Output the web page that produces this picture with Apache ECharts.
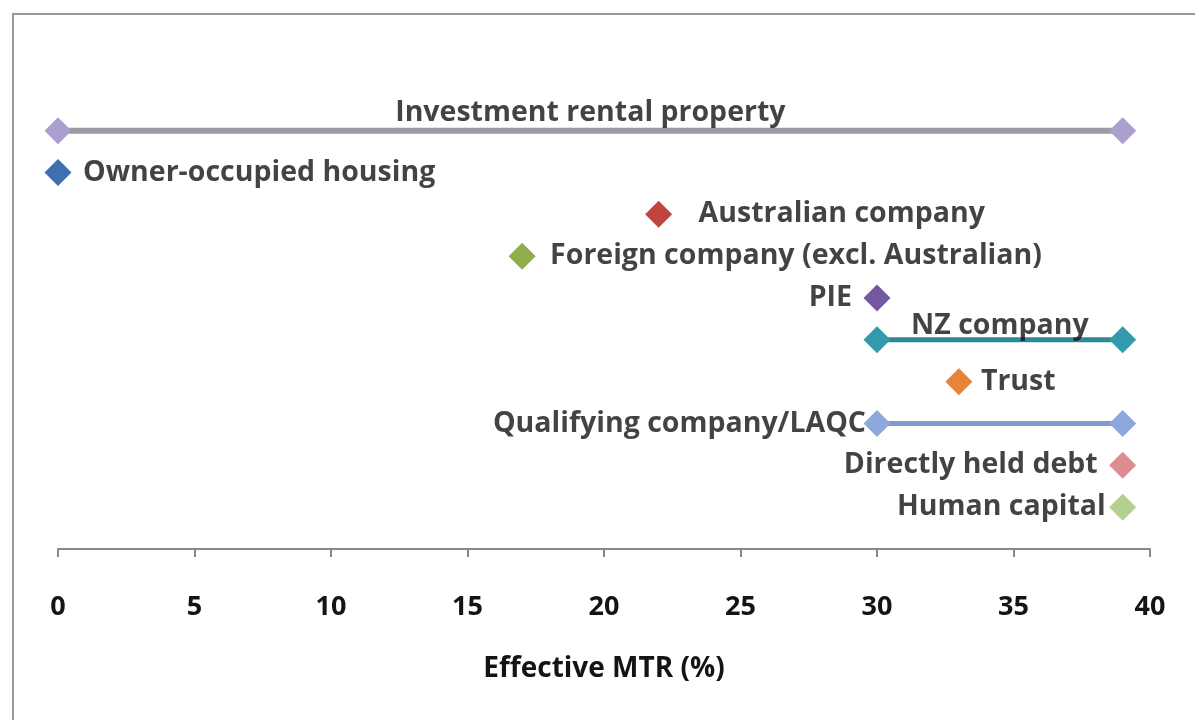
<!DOCTYPE html>
<html>
<head>
<meta charset="utf-8">
<script src="https://cdn.jsdelivr.net/npm/echarts@6/dist/echarts.min.js"></script>
<style>
  html, body { margin: 0; padding: 0; background: #fff; }
  #main { width: 1195px; height: 720px; }
</style>
</head>
<body>
<div id="main"></div>
<script>
// data, top row first
const categories = ['Investment rental property', 'Owner-occupied housing', 'Australian company',
  'Foreign company (excl. Australian)', 'PIE', 'NZ company', 'Trust', 'Qualifying company/LAQC',
  'Directly held debt', 'Human capital'];
const lowMTR = [0, 0, 22, 17, 30, 30, 33, 30, 39, 39];
const highMTR = [39, null, null, null, null, 39, null, 39, null, null];
const xTicks = [0, 5, 10, 15, 20, 25, 30, 35, 40];

// styles
const markerColors = ['#ab9fd0', '#3f6fb0', '#c0443f', '#8fae4a', '#7459a0', '#3399ad', '#e8843a', '#8fa8dc', '#dc8d8f', '#b5cf8f'];
const lineColors = ['#9a9aa2', null, null, null, null, '#2c8a98', null, '#8199cf', null, null];
const lineWidths = [6, 0, 0, 0, 0, 5, 0, 5, 0, 0];
const labelPos = ['top', 'right', 'right', 'right', 'left', 'top', 'right', 'left', 'left', 'left'];
const labelDist = [3, 25, 40, 28, 25, -1, 22, 11, 25, 17];

const myChart = echarts.init(document.getElementById('main'));
const FONT = 'Open Sans';
const rows = categories.length;

const series = [];
categories.forEach(function (name, i) {
  const y = rows - i;
  const pts = highMTR[i] === null ? [[lowMTR[i], y]] : [[lowMTR[i], y], [highMTR[i], y]];
  series.push({
    name: name,
    type: 'line',
    data: pts,
    symbol: 'diamond',
    symbolSize: 27,
    itemStyle: { color: markerColors[i] },
    lineStyle: { color: lineColors[i] || markerColors[i], width: lineWidths[i] || 1 },
    z: 3,
    silent: true
  });
});

// text labels: over the middle of a range, or beside its end
function anchorX(i) {
  if (highMTR[i] === null) return lowMTR[i];
  if (labelPos[i] === 'top') return (lowMTR[i] + highMTR[i]) / 2;
  return labelPos[i] === 'left' ? lowMTR[i] : highMTR[i];
}

series.push({
  type: 'scatter',
  symbolSize: 0,
  silent: true,
  z: 5,
  data: categories.map(function (name, i) {
    return {
      value: [anchorX(i), rows - i],
      label: {
        show: true,
        formatter: name,
        position: labelPos[i],
        distance: labelDist[i],
        fontFamily: FONT,
        fontWeight: 'bold',
        fontSize: 28.5,
        color: '#141414'
      }
    };
  })
});

const option = {
  animation: false,
  backgroundColor: '#fff',
  graphic: [{
    type: 'rect',
    shape: { x: 13, y: 14, width: 1200, height: 720 },
    style: { fill: 'none', stroke: '#999', lineWidth: 2 }
  }],
  grid: { left: 58, right: 45, top: 47, bottom: 171 },
  xAxis: {
    type: 'value',
    min: xTicks[0],
    max: xTicks[xTicks.length - 1],
    interval: xTicks[1] - xTicks[0],
    name: 'Effective MTR (%)',
    nameLocation: 'middle',
    nameGap: 106,
    nameTextStyle: { fontFamily: FONT, fontWeight: 'bold', fontSize: 28, color: '#141414' },
    axisLine: { lineStyle: { color: '#888', width: 2 } },
    axisTick: { show: true, inside: false, length: 8, lineStyle: { color: '#888', width: 2 } },
    axisLabel: { margin: 45, fontFamily: FONT, fontWeight: 'bold', fontSize: 27, color: '#141414' },
    splitLine: { show: false }
  },
  yAxis: {
    type: 'value',
    min: 0,
    max: 12,
    show: false
  },
  series: series
};
myChart.setOption(option);
</script>
</body>
</html>
